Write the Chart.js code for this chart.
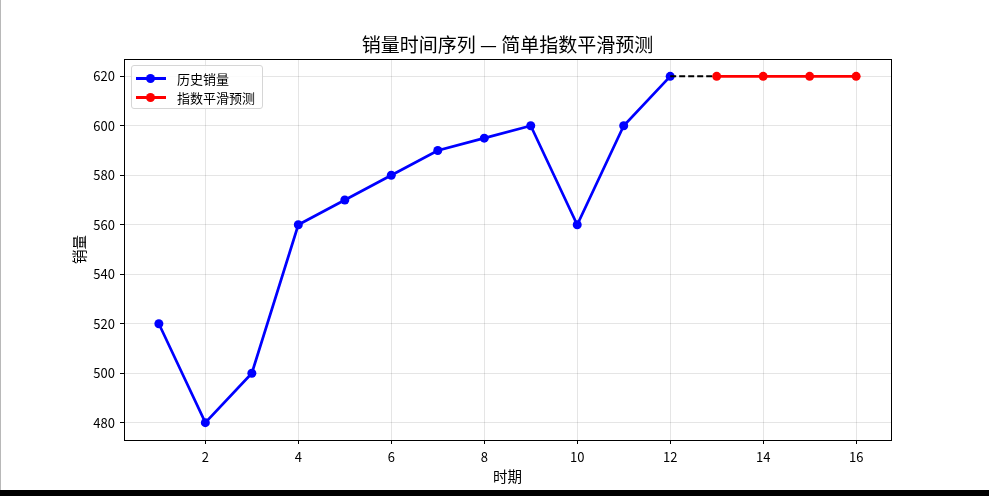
<!DOCTYPE html>
<html>
<head>
<meta charset="utf-8">
<script src="https://cdn.jsdelivr.net/npm/chart.js@4"></script>
<style>
  html, body { margin: 0; padding: 0; background: #fff; }
  #wrap { position: relative; width: 989px; height: 496px; overflow: hidden; }
  #edge { position: absolute; left: 0; top: 0; width: 1px; height: 490px; background: #b8b8b8; }
  #bar { position: absolute; left: 0; top: 490px; width: 989px; height: 6px; background: #000; }
  #legend {
    position: absolute; left: 131px; top: 65px; width: 130px; height: 42px;
    border: 1px solid #d6d6d6; border-radius: 3px; background: rgba(255,255,255,0.85);
    font: 13px "Noto Sans CJK SC", sans-serif; color: #000;
  }
  .row { position: absolute; left: 4px; height: 19px; display: flex; align-items: center; }
  .sample { position: relative; width: 30px; height: 19px; margin-right: 11px; }
  .sample .ln { position: absolute; left: 0; top: 8px; width: 30px; height: 3px; }
  .sample .mk { position: absolute; left: 10px; top: 5px; width: 9px; height: 9px; border-radius: 50%; }
</style>
</head>
<body>
<div id="wrap">
  <canvas id="chart" width="989" height="490" style="position:absolute;left:0;top:0;width:989px;height:490px;"></canvas>
  <div id="legend"></div>
  <div id="edge"></div>
  <div id="bar"></div>
</div>
<script>
const periods = [1, 2, 3, 4, 5, 6, 7, 8, 9, 10, 11, 12];
const sales = [520, 480, 500, 560, 570, 580, 590, 595, 600, 560, 600, 620];
const forecastPeriods = [13, 14, 15, 16];
const forecast = [620, 620, 620, 620];
const xTicks = [2, 4, 6, 8, 10, 12, 14, 16];
const yTicks = [480, 500, 520, 540, 560, 580, 600, 620];

const titleText = '销量时间序列 — 简单指数平滑预测';
const series = [
    { label: '历史销量', color: '#0000ff' },
    { label: '指数平滑预测', color: '#ff0000' },
];

const font = '"Noto Sans CJK SC", "DejaVu Sans", sans-serif';

const toPoints = (xs, ys) => xs.map((x, i) => ({ x, y: ys[i] }));

// 最后一个历史点到第一个预测点的虚线
const bridge = [
    { x: periods[periods.length - 1], y: sales[sales.length - 1] },
    { x: forecastPeriods[0], y: forecast[0] },
];

// 外框 + 居中于绘图区的标题
const frame = {
    id: 'frame',
    afterDatasetsDraw(chart) {
        const { ctx, chartArea: a } = chart;
        ctx.save();
        ctx.strokeStyle = '#000';
        ctx.lineWidth = 1;
        ctx.strokeRect(Math.round(a.left) + 0.5, Math.round(a.top) + 0.5,
            Math.round(a.right - a.left), Math.round(a.bottom - a.top));
        ctx.fillStyle = '#000';
        ctx.font = '19px ' + font;
        ctx.textAlign = 'center';
        ctx.textBaseline = 'middle';
        ctx.fillText(titleText, (a.left + a.right) / 2, 45);
        ctx.restore();
    }
};

const ctx = document.getElementById('chart').getContext('2d');
new Chart(ctx, {
    type: 'line',
    data: {
        datasets: [
            {
                label: series[0].label,
                data: toPoints(periods, sales),
                borderColor: series[0].color,
                backgroundColor: series[0].color,
                borderWidth: 2.7,
                pointRadius: 4.5,
                pointBorderWidth: 0,
                pointBackgroundColor: series[0].color,
                order: 3,
            },
            {
                label: '',
                data: bridge,
                borderColor: '#000',
                borderWidth: 2,
                borderDash: [6, 3],
                pointRadius: 0,
                order: 2,
            },
            {
                label: series[1].label,
                data: toPoints(forecastPeriods, forecast),
                borderColor: series[1].color,
                backgroundColor: series[1].color,
                borderWidth: 2.7,
                pointRadius: 4.5,
                pointBorderWidth: 0,
                pointBackgroundColor: series[1].color,
                order: 1,
            },
        ]
    },
    options: {
        responsive: false,
        animation: false,
        layout: { padding: { left: 0, right: 98, top: 59, bottom: 0 } },
        plugins: {
            legend: { display: false },
            tooltip: { enabled: false },
            title: { display: false },
        },
        scales: {
            x: {
                type: 'linear',
                min: 0.25,
                max: 16.75,
                afterBuildTicks: (scale) => { scale.ticks = xTicks.map(value => ({ value })); },
                afterFit: (scale) => { scale.height = 50; },
                ticks: { color: '#000', font: { family: font, size: 13 }, padding: 5 },
                grid: { color: 'rgba(0,0,0,0.1)', tickColor: '#000', tickLength: 4 },
                border: { color: '#000' },
                title: {
                    display: true, text: '时期', color: '#000',
                    font: { family: font, size: 14.5 }, padding: { top: 0, bottom: 5 },
                },
            },
            y: {
                min: 473,
                max: 627,
                afterBuildTicks: (scale) => { scale.ticks = yTicks.map(value => ({ value })); },
                afterFit: (scale) => { scale.width = 124; },
                ticks: { color: '#000', font: { family: font, size: 13 }, padding: 5 },
                grid: { color: 'rgba(0,0,0,0.1)', tickColor: '#000', tickLength: 4 },
                border: { color: '#000' },
                title: {
                    display: true, text: '销量', color: '#000',
                    font: { family: font, size: 14.5 }, padding: { top: 71, bottom: 0 },
                },
            },
        },
    },
    plugins: [frame],
});

// 图例放在绘图区左上角
const legend = document.getElementById('legend');
series.forEach((s, i) => {
    const row = document.createElement('div');
    row.className = 'row';
    row.style.top = (3 + i * 19) + 'px';
    row.innerHTML = '<div class="sample"><div class="ln" style="background:' + s.color + '"></div>' +
        '<div class="mk" style="background:' + s.color + '"></div></div><span>' + s.label + '</span>';
    legend.appendChild(row);
});
</script>
</body>
</html>
